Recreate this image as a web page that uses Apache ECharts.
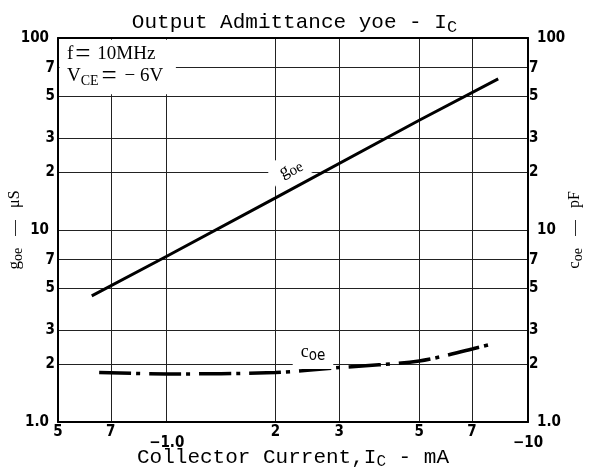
<!DOCTYPE html>
<html>
<head>
<meta charset="utf-8">
<title>Output Admittance yoe - Ic</title>
<script src="https://cdn.jsdelivr.net/npm/echarts@6/dist/echarts.min.js"></script>
<style>
  html, body { margin: 0; padding: 0; background: #fff; }
  #chart { width: 589px; height: 468px; }
</style>
</head>
<body>
<div id="chart"></div>
<script>
// collector current in mA (magnitude, the sheet prints it negative)
const currentTicks = [0.5, 0.7, 1, 2, 3, 5, 7, 10]
const currentLabels = ['5', '7', '−1.0', '2', '3', '5', '7', '−10']
// both y scales: g_oe in uS (left), c_oe in pF (right)
const valueTicks = [1, 2, 3, 5, 7, 10, 20, 30, 50, 70, 100]
const valueLabels = ['1.0', '2', '3', '5', '7', '10', '2', '3', '5', '7', '100']

// g_oe curve
const goeCurrent = [0.62, 1, 2, 5, 8.27]
const goeValue = [4.54, 7.3, 14.7, 37.3, 61.3]
// c_oe curve
const coeCurrent = [0.65, 1, 2, 3, 5, 7, 7.9]
const coeValue = [1.81, 1.78, 1.81, 1.92, 2.08, 2.4, 2.54]

const chart = echarts.init(document.getElementById('chart'))

const tickFont = '"Liberation Sans Narrow", "DejaVu Sans Condensed", "Liberation Sans", sans-serif'
const serif = '"Liberation Serif", "DejaVu Serif", serif'
const mono = '"Liberation Mono", "DejaVu Sans Mono", monospace'

// nearest tick label for a value on a log scale
function pickLabel(ticks, labels, v) {
  let best = 0
  ticks.forEach((t, i) => {
    if (Math.abs(Math.log(t / v)) < Math.abs(Math.log(ticks[best] / v))) best = i
  })
  return labels[best]
}

function zip(xs, ys) {
  return xs.map((x, i) => [x, ys[i]])
}

const gridLine = { show: true, lineStyle: { color: '#222', width: 1 } }
const frame = { show: true, lineStyle: { color: '#000', width: 2 } }
const tickText = { fontFamily: tickFont, fontWeight: 'bold', fontSize: 15, color: '#000' }

const option = {
  animation: false,
  backgroundColor: '#fff',
  title: {
    text: '{m|Output Admittance yoe - I}{s|C}',
    left: 'center',
    top: 4,
    textStyle: {
      fontWeight: 'normal',
      rich: {
        m: { fontFamily: mono, fontSize: 21, fontWeight: 'normal', color: '#000' },
        s: { fontFamily: mono, fontSize: 17, fontWeight: 'normal', color: '#000', padding: [10, 0, 0, 0] }
      }
    }
  },
  grid: { left: 58, right: 61, top: 38, bottom: 46, containLabel: false, outerBoundsMode: 'none' },
  xAxis: [
    {
      type: 'log',
      logBase: 10,
      min: 0.5,
      max: 10,
      axisLine: frame,
      axisTick: { show: false, customValues: currentTicks },
      minorTick: { show: false },
      minorSplitLine: { show: false },
      splitLine: gridLine,
      axisLabel: {
        customValues: currentTicks,
        margin: 3,
        ...tickText,
        formatter: v => {
          const s = pickLabel(currentTicks, currentLabels, v)
          return s.startsWith('−') ? '{lo|' + s + '}' : s
        },
        rich: { lo: { ...tickText, padding: [11, 0, 0, 0] } }
      },
      name: '{m|Collector Current,I}{s|C}{m| - mA}',
      nameLocation: 'middle',
      nameMoveOverlap: false,
      nameGap: 22,
      nameTextStyle: {
        rich: {
          m: { fontFamily: mono, fontSize: 21, color: '#000' },
          s: { fontFamily: mono, fontSize: 16, color: '#000', padding: [10, 0, 0, 0] }
        }
      }
    },
    {
      type: 'log',
      logBase: 10,
      min: 0.5,
      max: 10,
      position: 'top',
      axisLine: frame,
      axisTick: { show: false },
      axisLabel: { show: false },
      splitLine: { show: false }
    }
  ],
  yAxis: [
    {
      type: 'log',
      logBase: 10,
      min: 1,
      max: 100,
      axisLine: frame,
      axisTick: { show: false, customValues: valueTicks },
      minorTick: { show: false },
      minorSplitLine: { show: false },
      splitLine: gridLine,
      axisLabel: {
        customValues: valueTicks,
        margin: 3,
        ...tickText,
        formatter: v => {
          const s = pickLabel(valueTicks, valueLabels, v)
          return s.length > 1 ? '{w|' + s + '}' : s
        },
        rich: { w: { ...tickText, padding: [0, 6, 0, 0] } }
      },
      name: '{g|g}{s|oe}{t|   —   μS}',
      nameLocation: 'middle',
      nameMoveOverlap: false,
      nameRotate: 90,
      nameGap: 33,
      nameTextStyle: {
        rich: {
          g: { fontFamily: serif, fontSize: 17, color: '#000' },
          s: { fontFamily: serif, fontSize: 14, color: '#000', padding: [6, 0, 0, 0] },
          t: { fontFamily: serif, fontSize: 16, color: '#000' }
        }
      }
    },
    {
      type: 'log',
      logBase: 10,
      min: 1,
      max: 100,
      position: 'right',
      axisLine: frame,
      axisTick: { show: false, customValues: valueTicks },
      minorTick: { show: false },
      splitLine: { show: false },
      axisLabel: {
        customValues: valueTicks,
        margin: 1,
        ...tickText,
        formatter: v => {
          const s = pickLabel(valueTicks, valueLabels, v)
          return s.length > 1 ? '{w|' + s + '}' : s
        },
        rich: { w: { ...tickText, padding: [0, 0, 0, 8] } }
      },
      name: '{g|c}{s|oe}{t|   —   pF}',
      nameLocation: 'middle',
      nameMoveOverlap: false,
      nameRotate: 90,
      nameGap: 37,
      nameTextStyle: {
        rich: {
          g: { fontFamily: serif, fontSize: 17, color: '#000' },
          s: { fontFamily: serif, fontSize: 14, color: '#000', padding: [6, 0, 0, 0] },
          t: { fontFamily: serif, fontSize: 16, color: '#000' }
        }
      }
    }
  ],
  graphic: [
    {
      type: 'text',
      x: 67,
      y: 41,
      z: 10,
      style: {
        text: '{a|f}{e|=}{a| 10MHz}',
        rich: {
          a: { fontFamily: serif, fontSize: 19, fill: '#000' },
          e: { fontFamily: serif, fontSize: 27, fill: '#000', padding: [0, 2, 0, 2] }
        }
      }
    },
    {
      type: 'text',
      x: 67,
      y: 63,
      z: 10,
      style: {
        text: '{a|V}{s|CE}{e|=}{a| − 6V}',
        rich: {
          a: { fontFamily: serif, fontSize: 19, fill: '#000' },
          s: { fontFamily: serif, fontSize: 14, fill: '#000', padding: [10, 0, 0, 0] },
          e: { fontFamily: serif, fontSize: 27, fill: '#000', padding: [0, 3, 0, 3] }
        }
      }
    }
  ],
  series: [
    {
      name: 'goe',
      type: 'line',
      xAxisIndex: 0,
      yAxisIndex: 0,
      data: zip(goeCurrent, goeValue),
      showSymbol: false,
      symbol: 'none',
      lineStyle: { color: '#000', width: 3 },
      z: 3,
      markArea: {
        silent: true,
        itemStyle: { color: '#fff' },
        data: [[{ coord: [0.505, 51] }, { coord: [1.06, 98] }]]
      },
      markPoint: {
        symbol: 'rect',
        symbolSize: 1,
        itemStyle: { color: 'rgba(0,0,0,0)' },
        label: {
          show: true,
          position: 'inside',
          rotate: 28,
          backgroundColor: '#fff',
          padding: [3, 10, 3, 10],
          formatter: '{g|g}{s|oe}',
          rich: {
            g: { fontFamily: serif, fontSize: 18, color: '#000' },
            s: { fontFamily: serif, fontSize: 15, color: '#000', padding: [7, 0, 0, 0] }
          }
        },
        data: [{ coord: [2.2, 21] }]
      }
    },
    {
      name: 'coe',
      type: 'line',
      xAxisIndex: 0,
      yAxisIndex: 1,
      data: zip(coeCurrent, coeValue),
      smooth: 0.3,
      showSymbol: false,
      symbol: 'none',
      lineStyle: { color: '#000', width: 3.5, type: [32, 5, 4, 9], cap: 'butt' },
      z: 3,
      markPoint: {
        symbol: 'rect',
        symbolSize: 1,
        itemStyle: { color: 'rgba(0,0,0,0)' },
        label: {
          show: true,
          position: 'inside',
          backgroundColor: '#fff',
          padding: [3, 8, 5, 8],
          formatter: '{g|c}{s|oe}',
          rich: {
            g: { fontFamily: serif, fontSize: 18, color: '#000' },
            s: { fontFamily: tickFont, fontSize: 15, color: '#000', padding: [9, 0, 0, 0] }
          }
        },
        data: [{ coord: [2.54, 2.29] }]
      }
    }
  ]
}

chart.setOption(option)
</script>
</body>
</html>
